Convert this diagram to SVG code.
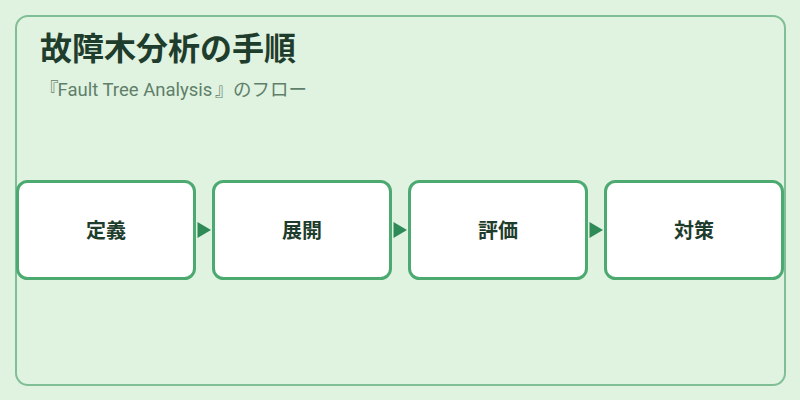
<svg xmlns="http://www.w3.org/2000/svg" width="800" height="400" viewBox="0 0 800 400">
<defs>
<style>
.frame{fill:#e0f2e0;stroke:#80bf96;stroke-width:2}
.box{fill:#ffffff;stroke:#4caa70;stroke-width:3}
.lbl{font-family:"Noto Sans CJK JP","Noto Sans",sans-serif;font-size:20px;font-weight:bold;fill:#1f3d2c;text-anchor:middle}
.title{font-family:"Noto Sans CJK JP","Noto Sans",sans-serif;font-size:32px;font-weight:bold;fill:#1f3d2c}
.sub{font-family:"Roboto","Noto Sans CJK JP",sans-serif;font-size:18.5px;fill:#5f7f6a;text-spacing-trim:space-all}
.cjk{font-family:"Noto Sans CJK JP",sans-serif;font-size:18.5px}
.arr{fill:#2e8b57}
</style>
</defs>
<rect width="800" height="400" fill="#e0f2e0"/>
<rect class="frame" x="16" y="16" width="769" height="369" rx="12"/>
<text class="title" x="40" y="60">故障木分析の手順</text>
<text class="sub" y="96"><tspan class="cjk" x="40">『</tspan><tspan x="57.5">Fault Tree Analysis</tspan><tspan class="cjk" x="215">』</tspan><tspan class="cjk" x="233">のフロー</tspan></text>
<g id="connectors">
<polygon class="arr" points="197.5,222 211,230 197.5,238"/>
<polygon class="arr" points="393.5,222 407,230 393.5,238"/>
<polygon class="arr" points="589.5,222 603,230 589.5,238"/>
</g>
<g id="n1"><rect class="box" x="17.5" y="181.5" width="177" height="97" rx="10"/><text class="lbl" x="106" y="238">定義</text></g>
<g id="n2"><rect class="box" x="213.5" y="181.5" width="177" height="97" rx="10"/><text class="lbl" x="302" y="238">展開</text></g>
<g id="n3"><rect class="box" x="409.5" y="181.5" width="177" height="97" rx="10"/><text class="lbl" x="498" y="238">評価</text></g>
<g id="n4"><rect class="box" x="605.5" y="181.5" width="177" height="97" rx="10"/><text class="lbl" x="694" y="238">対策</text></g>
</svg>
